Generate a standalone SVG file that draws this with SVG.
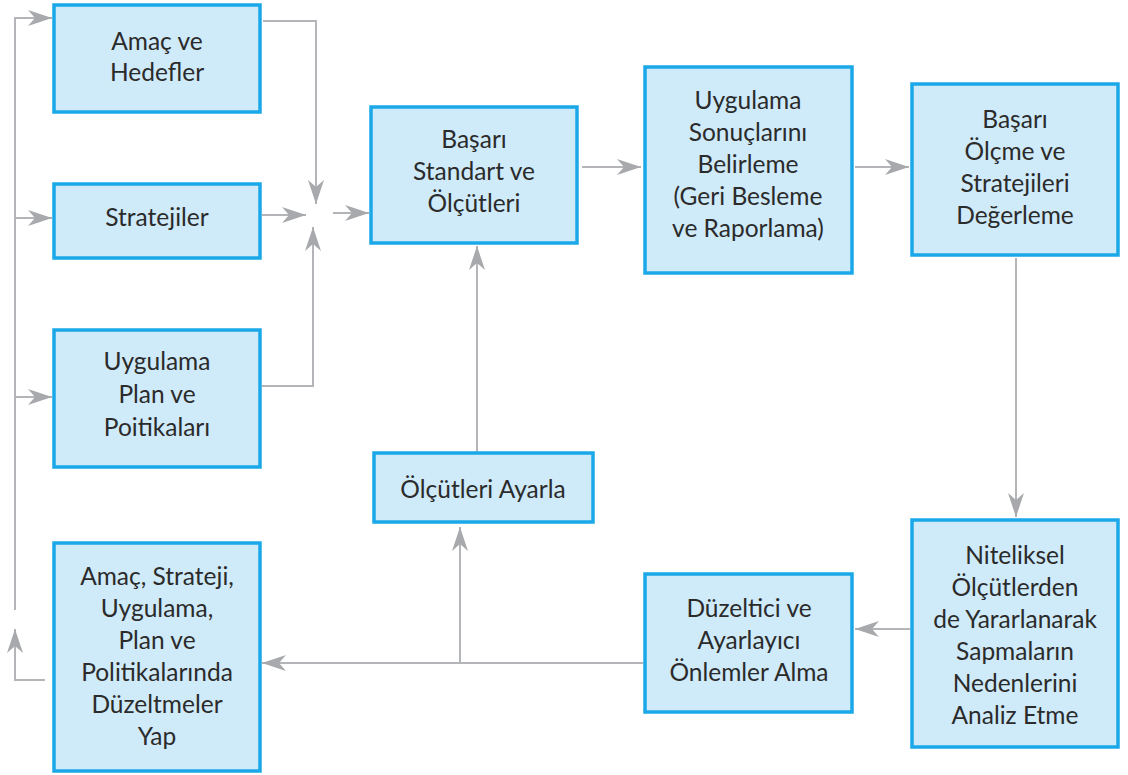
<svg xmlns="http://www.w3.org/2000/svg" width="1128" height="775" viewBox="0 0 1128 775">
<defs>
<marker id="ah" markerUnits="userSpaceOnUse" markerWidth="26" markerHeight="18" refX="24" refY="8" orient="auto">
<path d="M0,0 L24,8 L0,16 L7,8 z" fill="#a7a9ac"/>
</marker>
<style>
.box{fill:#cfeaf9;stroke:#1ba8e8;stroke-width:3.5}
.t{font-family:Lato,"Open Sans",sans-serif;font-size:24.5px;fill:#2b2b2b;text-anchor:middle}
.c{fill:none;stroke:#b3b5b8;stroke-width:2}
</style>
</defs>
<rect width="1128" height="775" fill="#ffffff"/>
<g id="connectors">
<path class="c" d="M45,680 H15 V629" marker-end="url(#ah)"/>
<path class="c" d="M15,610 V18 H52" marker-end="url(#ah)"/>
<path class="c" d="M15,218 H52" marker-end="url(#ah)"/>
<path class="c" d="M15,397 H52" marker-end="url(#ah)"/>
<path class="c" d="M263,21 H316 V204" marker-end="url(#ah)"/>
<path class="c" d="M262,215 H306" marker-end="url(#ah)"/>
<path class="c" d="M262,386 H313 V227" marker-end="url(#ah)"/>
<path class="c" d="M333,213 H369" marker-end="url(#ah)"/>
<path class="c" d="M582,167 H641" marker-end="url(#ah)"/>
<path class="c" d="M855,167 H909" marker-end="url(#ah)"/>
<path class="c" d="M1016,258 V517" marker-end="url(#ah)"/>
<path class="c" d="M910,629 H855" marker-end="url(#ah)"/>
<path class="c" d="M643,663 H262" marker-end="url(#ah)"/>
<path class="c" d="M460,663 V527" marker-end="url(#ah)"/>
<path class="c" d="M477,452 V246" marker-end="url(#ah)"/>
</g>
<g id="n-amac-hedefler">
<rect class="box" x="54" y="5" width="206" height="107"/>
<text class="t" x="157" y="50">Amaç ve</text>
<text class="t" x="157" y="81">Hedefler</text>
</g>
<g id="n-stratejiler">
<rect class="box" x="54" y="184" width="206" height="74"/>
<text class="t" x="157" y="226">Stratejiler</text>
</g>
<g id="n-uygulama-plan">
<rect class="box" x="54" y="330" width="206" height="137"/>
<text class="t" x="157" y="370">Uygulama</text>
<text class="t" x="157" y="403">Plan ve</text>
<text class="t" x="157" y="436">Poitikaları</text>
</g>
<g id="n-duzeltmeler">
<rect class="box" x="54" y="543" width="206" height="228"/>
<text class="t" x="157" y="585">Amaç, Strateji,</text>
<text class="t" x="157" y="617">Uygulama,</text>
<text class="t" x="157" y="649">Plan ve</text>
<text class="t" x="157" y="681">Politikalarında</text>
<text class="t" x="157" y="713">Düzeltmeler</text>
<text class="t" x="157" y="745">Yap</text>
</g>
<g id="n-basari-standart">
<rect class="box" x="371" y="107" width="206" height="136"/>
<text class="t" x="474" y="148">Başarı</text>
<text class="t" x="474" y="180">Standart ve</text>
<text class="t" x="474" y="212">Ölçütleri</text>
</g>
<g id="n-uygulama-sonuclari">
<rect class="box" x="645" y="67" width="207" height="206"/>
<text class="t" x="748" y="109">Uygulama</text>
<text class="t" x="748" y="141">Sonuçlarını</text>
<text class="t" x="748" y="173">Belirleme</text>
<text class="t" x="748" y="205">(Geri Besleme</text>
<text class="t" x="748" y="237">ve Raporlama)</text>
</g>
<g id="n-basari-olcme">
<rect class="box" x="912" y="84" width="206" height="171"/>
<text class="t" x="1015" y="128">Başarı</text>
<text class="t" x="1015" y="160">Ölçme ve</text>
<text class="t" x="1015" y="192">Stratejileri</text>
<text class="t" x="1015" y="224">Değerleme</text>
</g>
<g id="n-olcutleri-ayarla">
<rect class="box" x="374" y="453" width="219" height="69"/>
<text class="t" x="483" y="498">Ölçütleri Ayarla</text>
</g>
<g id="n-duzeltici">
<rect class="box" x="645" y="574" width="207" height="138"/>
<text class="t" x="749" y="617">Düzeltici ve</text>
<text class="t" x="749" y="649">Ayarlayıcı</text>
<text class="t" x="749" y="681">Önlemler Alma</text>
</g>
<g id="n-niteliksel">
<rect class="box" x="912" y="520" width="206" height="227"/>
<text class="t" x="1015" y="564">Niteliksel</text>
<text class="t" x="1015" y="596">Ölçütlerden</text>
<text class="t" x="1015" y="628">de Yararlanarak</text>
<text class="t" x="1015" y="660">Sapmaların</text>
<text class="t" x="1015" y="692">Nedenlerini</text>
<text class="t" x="1015" y="724">Analiz Etme</text>
</g>
</svg>
